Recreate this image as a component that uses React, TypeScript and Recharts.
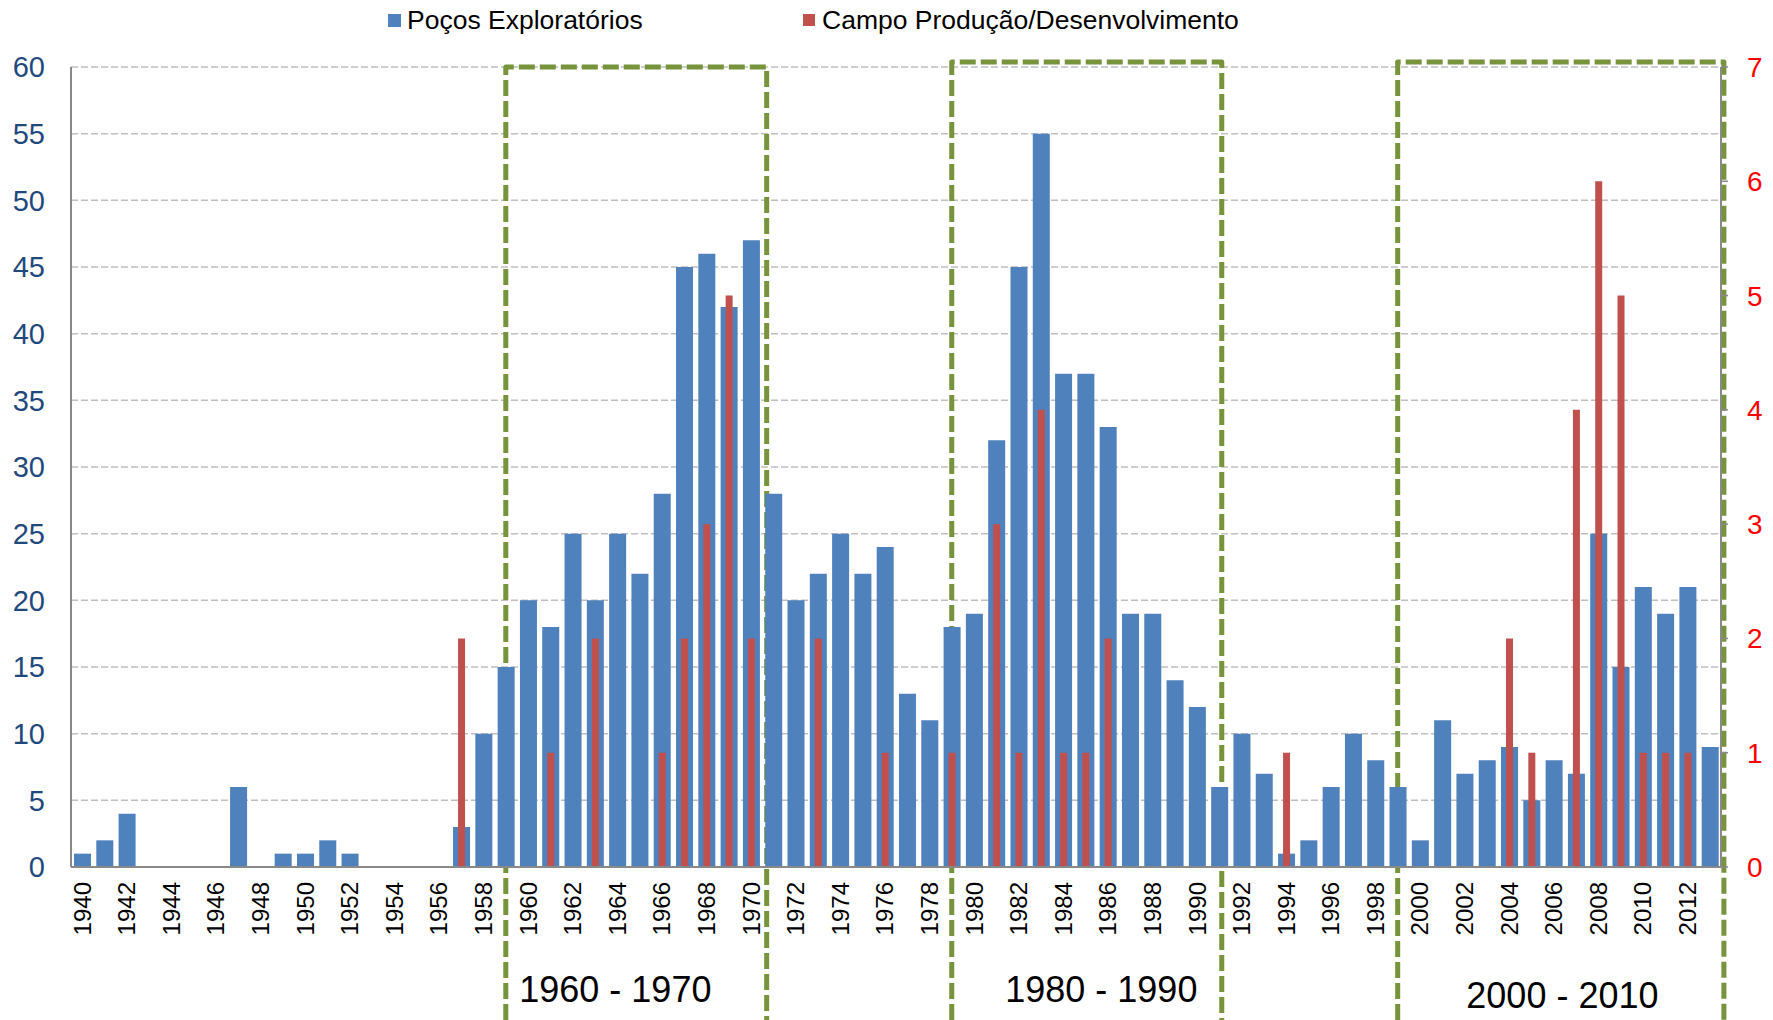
import React from 'react';
import { BarChart, Bar, XAxis, YAxis, CartesianGrid, ReferenceArea, Legend } from 'recharts';

const years = [
  '1940', '1941', '1942', '1943', '1944', '1945', '1946', '1947', '1948', '1949',
  '1950', '1951', '1952', '1953', '1954', '1955', '1956', '1957', '1958', '1959',
  '1960', '1961', '1962', '1963', '1964', '1965', '1966', '1967', '1968', '1969',
  '1970', '1971', '1972', '1973', '1974', '1975', '1976', '1977', '1978', '1979',
  '1980', '1981', '1982', '1983', '1984', '1985', '1986', '1987', '1988', '1989',
  '1990', '1991', '1992', '1993', '1994', '1995', '1996', '1997', '1998', '1999',
  '2000', '2001', '2002', '2003', '2004', '2005', '2006', '2007', '2008', '2009',
  '2010', '2011', '2012', '2013',
];

const exploratoryWells = [
  1, 2, 4, 0, 0, 0, 0, 6, 0, 1,
  1, 2, 1, 0, 0, 0, 0, 3, 10, 15,
  20, 18, 25, 20, 25, 22, 28, 45, 46, 42,
  47, 28, 20, 22, 25, 22, 24, 13, 11, 18,
  19, 32, 45, 55, 37, 37, 33, 19, 19, 14,
  12, 6, 10, 7, 1, 2, 6, 10, 8, 6,
  2, 11, 7, 8, 9, 5, 8, 7, 25, 15,
  21, 19, 21, 9,
];

const productionWells = [
  0, 0, 0, 0, 0, 0, 0, 0, 0, 0,
  0, 0, 0, 0, 0, 0, 0, 2, 0, 0,
  0, 1, 0, 2, 0, 0, 1, 2, 3, 5,
  2, 0, 0, 2, 0, 0, 1, 0, 0, 1,
  0, 3, 1, 4, 1, 1, 2, 0, 0, 0,
  0, 0, 0, 0, 1, 0, 0, 0, 0, 0,
  0, 0, 0, 0, 2, 1, 0, 4, 6, 5,
  1, 1, 1, 0,
];

const leftTicks = [0, 5, 10, 15, 20, 25, 30, 35, 40, 45, 50, 55, 60];
const rightTicks = [0, 1, 2, 3, 4, 5, 6, 7];

const seriesNames = ['Poços Exploratórios', 'Campo Produção/Desenvolvimento'];

const decadeStart = ['1959', '1979', '1999'];
const decadeEnd = ['1971', '1991', '2013'];
const decadeLabels = ['1960 - 1970', '1980 - 1990', '2000 - 2010'];

const data = years.map((y, i) => ({
  year: y,
  exploratory: exploratoryWells[i],
  production: productionWells[i],
}));

const W = 1773;
const H = 1020;
const FONT = '"Liberation Sans", Arial, sans-serif';
const BLUE = '#4F81BD';
const RED = '#C0504D';
const OLIVE = '#77933C';

const boxStyle = [
  { rightFrac: 0.8, lift: 0, labelFrac: 0.42, labelY: 989 },
  { rightFrac: 0.39, lift: 5, labelFrac: 0.554, labelY: 989 },
  { rightFrac: -0.13, lift: 5, labelFrac: 0.505, labelY: 995 },
];

const DecadeBox = (props: any) => {
  const { x, y, width, label, st, nBands } = props;
  const bw = width / nBands;
  const left = x + bw / 2;
  const right = x + width - st.rightFrac * bw;
  const top = y - st.lift;
  const bottom = H;
  return (
    <g>
      <path
        d={`M${left},${bottom} L${left},${top} L${right},${top} L${right},${bottom}`}
        fill="none"
        stroke={OLIVE}
        strokeWidth={5}
        strokeDasharray="16 5"
        strokeLinejoin="round"
      />
      <text
        x={left + (right - left) * st.labelFrac}
        y={st.labelY}
        textAnchor="middle"
        dominantBaseline="central"
        fontSize={36}
        fontFamily={FONT}
        fill="#000"
      >
        {label}
      </text>
    </g>
  );
};

const YearTick = (props: any) => {
  const { x, y, payload } = props;
  return (
    <text
      x={x}
      y={y}
      transform={`rotate(-90 ${x} ${y})`}
      textAnchor="end"
      dominantBaseline="central"
      fontSize={24}
      fontFamily={FONT}
      fill="#000"
    >
      {payload.value}
    </text>
  );
};

const LegendContent = () => (
  <div style={{ display: 'flex', alignItems: 'center', fontFamily: FONT, fontSize: 26.5, color: '#000', lineHeight: '30px' }}>
    <div style={{ width: 415, display: 'flex', alignItems: 'center' }}>
      <span style={{ display: 'inline-block', width: 13, height: 13, background: BLUE, marginRight: 6 }} />
      <span>{seriesNames[0]}</span>
    </div>
    <div style={{ display: 'flex', alignItems: 'center', whiteSpace: 'nowrap' }}>
      <span style={{ display: 'inline-block', width: 12, height: 12, background: RED, marginRight: 7 }} />
      <span>{seriesNames[1]}</span>
    </div>
  </div>
);

export default function App() {
  return (
    <div style={{ width: W, height: H, background: '#fff' }}>
      <style>{'body{margin:0;background:#fff;}'}</style>
      <BarChart
        width={W}
        height={H}
        data={data}
        margin={{ top: 67, right: 0, bottom: 0, left: 0 }}
      >
        <CartesianGrid
          yAxisId="left"
          xAxisId="a"
          vertical={false}
          stroke="#BFBFBF"
          strokeWidth={1.5}
          strokeDasharray="7 3"
        />
        <XAxis
          xAxisId="a"
          dataKey="year"
          interval={1}
          height={153}
          tickLine={false}
          tickSize={0}
          tickMargin={15}
          axisLine={{ stroke: '#898989', strokeWidth: 2 }}
          tick={<YearTick />}
        />
        <XAxis xAxisId="b" dataKey="year" hide />
        <YAxis
          yAxisId="left"
          orientation="left"
          width={71}
          domain={[0, 60]}
          ticks={leftTicks}
          interval={0}
          tickLine={false}
          tickSize={0}
          tickMargin={26}
          axisLine={{ stroke: '#898989', strokeWidth: 2 }}
          tick={{ fill: '#1F497D', fontSize: 29, fontFamily: FONT }}
        />
        <YAxis
          yAxisId="right"
          orientation="right"
          width={52}
          domain={[0, 7]}
          ticks={rightTicks}
          interval={0}
          tickLine={{ stroke: '#898989', strokeWidth: 1.5 }}
          tickSize={7}
          tickMargin={19}
          axisLine={{ stroke: '#898989', strokeWidth: 2 }}
          tick={{ fill: '#FF0000', fontSize: 28, fontFamily: FONT, textAnchor: 'start' }}
        />
        <Legend
          layout="horizontal"
          verticalAlign="middle"
          align="center"
          wrapperStyle={{ top: 5, left: 388, width: 1000 }}
          content={<LegendContent />}
        />
        <Bar
          xAxisId="a"
          yAxisId="left"
          dataKey="exploratory"
          name={seriesNames[0]}
          fill={BLUE}
          barSize={17}
          isAnimationActive={false}
        />
        <Bar
          xAxisId="b"
          yAxisId="right"
          dataKey="production"
          name={seriesNames[1]}
          fill={RED}
          barSize={7}
          isAnimationActive={false}
        />
        {decadeLabels.map((lab, i) => {
          const nBands = years.indexOf(decadeEnd[i]) - years.indexOf(decadeStart[i]) + 1;
          return (
            <ReferenceArea
              key={lab}
              xAxisId="a"
              yAxisId="left"
              x1={decadeStart[i]}
              x2={decadeEnd[i]}
              ifOverflow="visible"
              shape={(p: any) => <DecadeBox {...p} label={lab} st={boxStyle[i]} nBands={nBands} />}
            />
          );
        })}
      </BarChart>
    </div>
  );
}
